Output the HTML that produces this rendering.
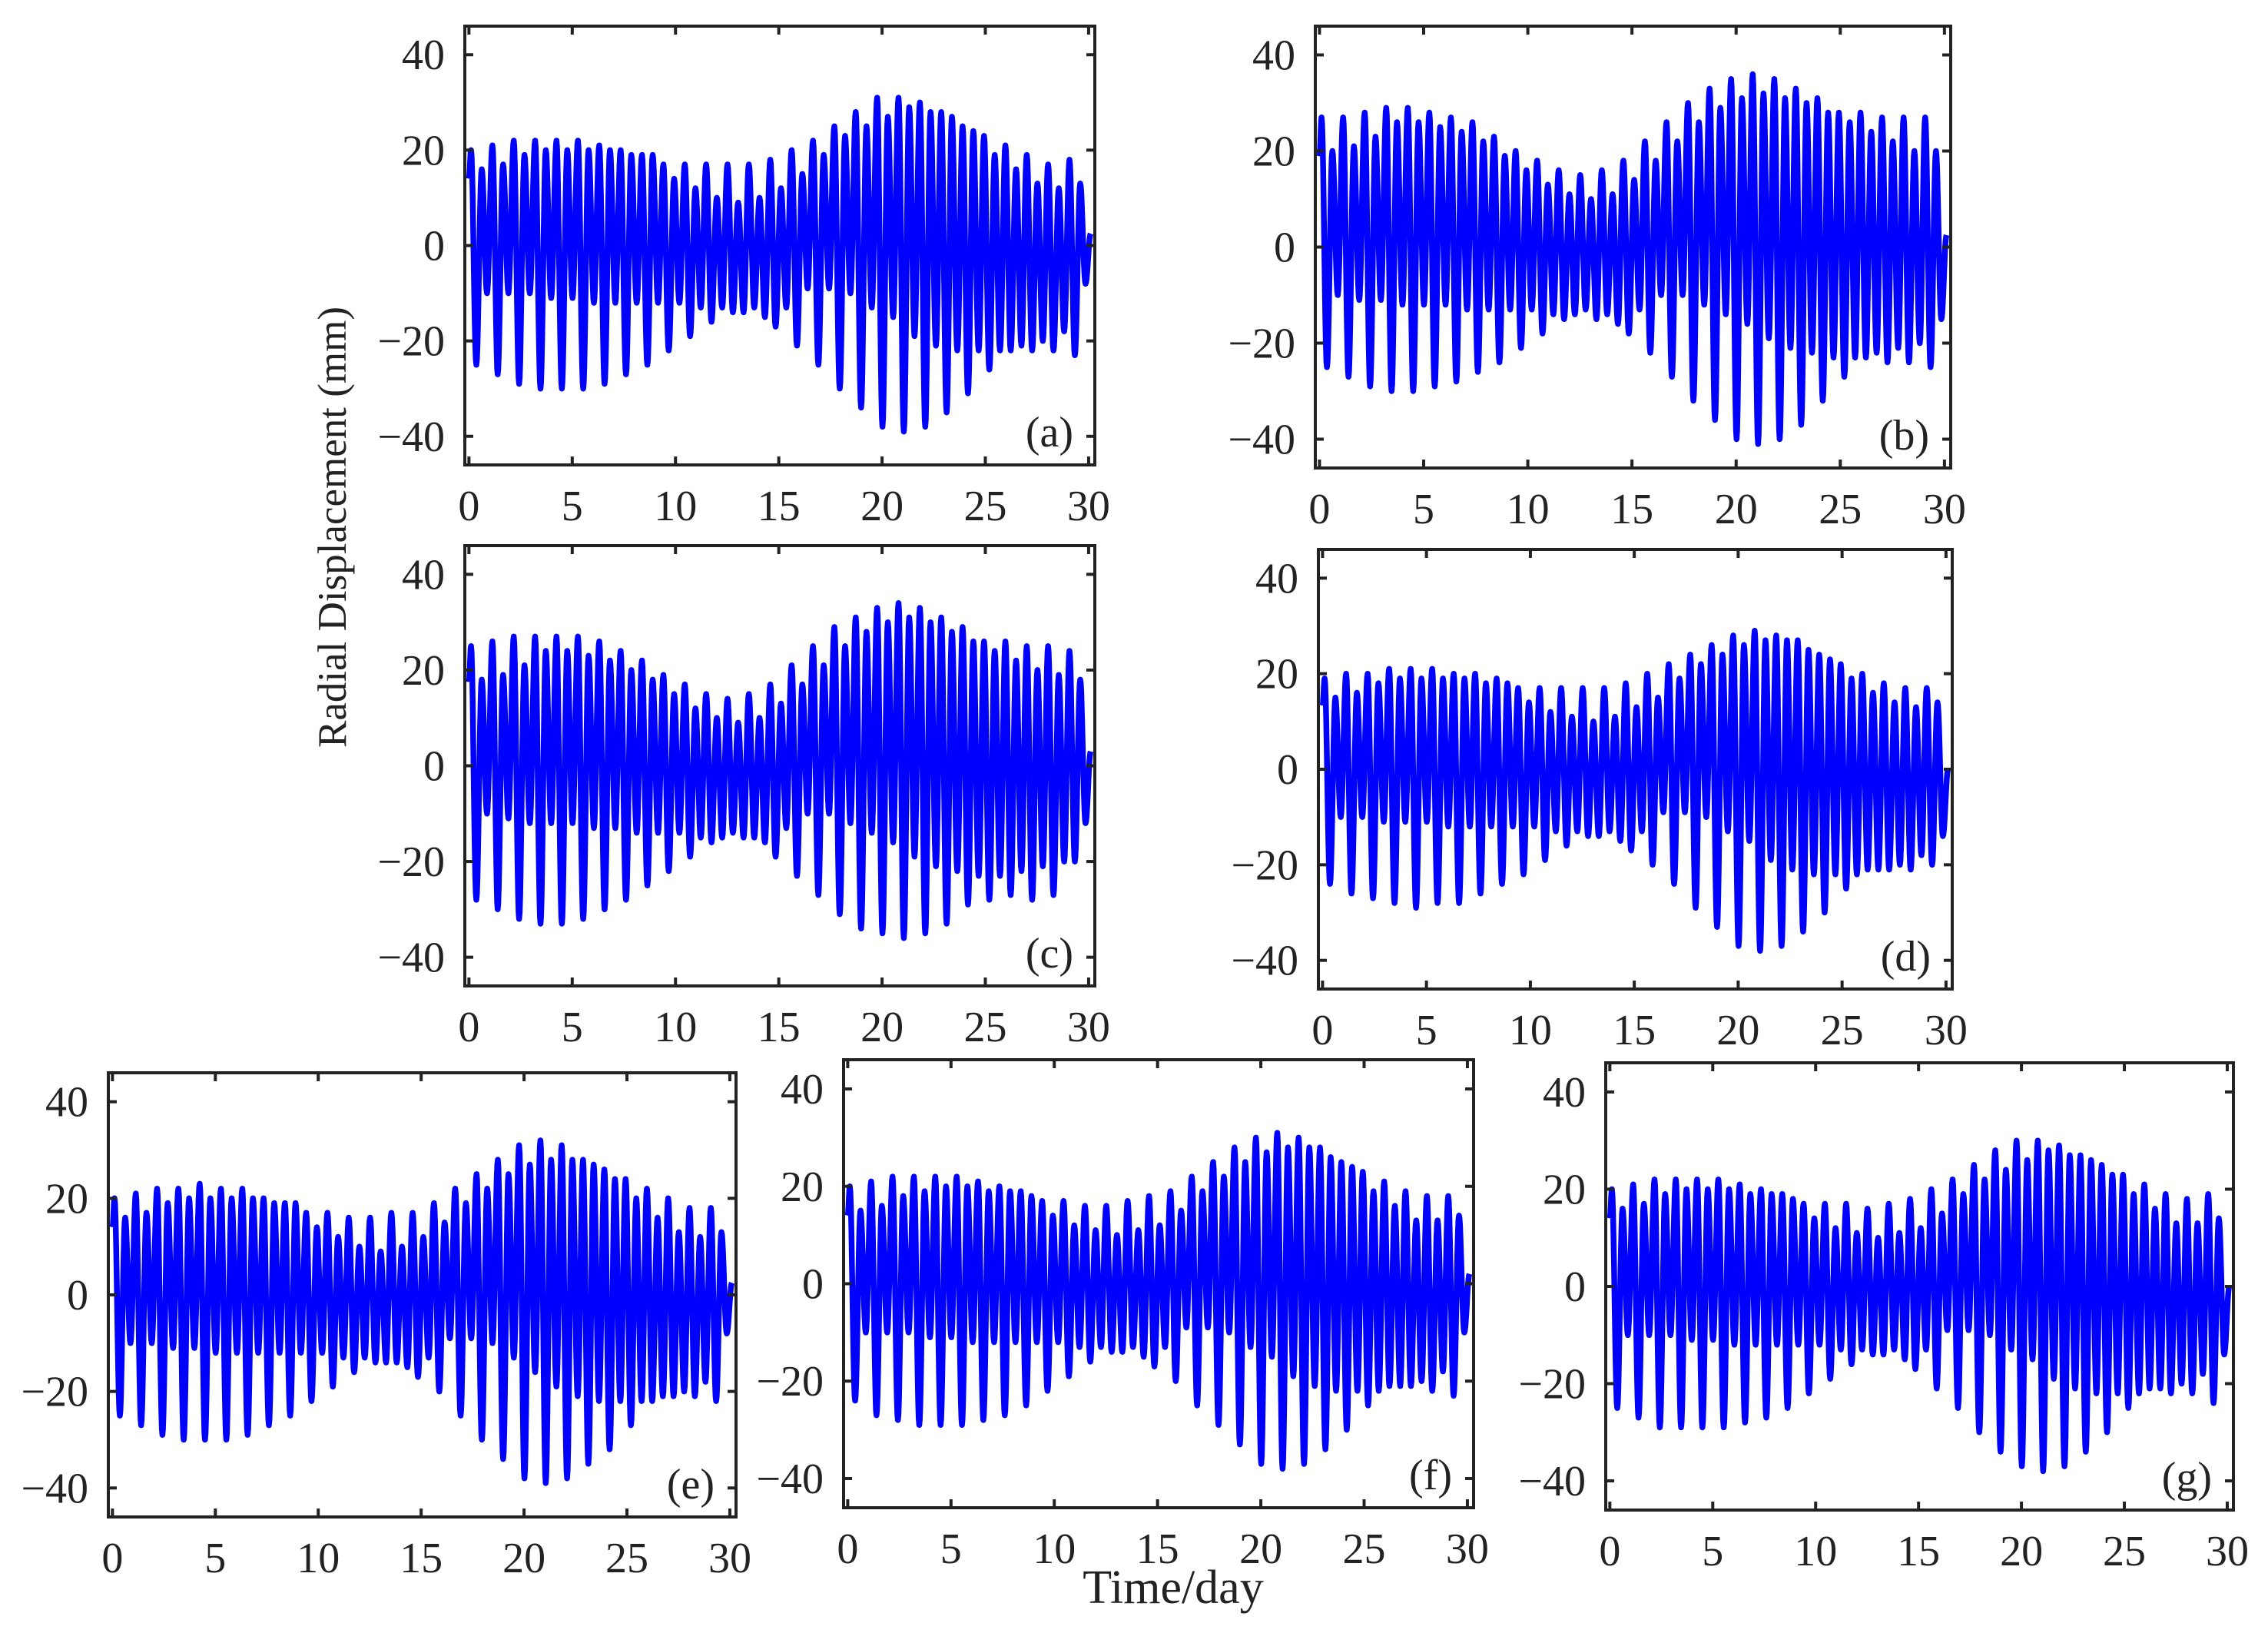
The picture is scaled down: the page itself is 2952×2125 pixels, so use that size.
<!DOCTYPE html>
<html><head><meta charset="utf-8"><style>
html,body{margin:0;padding:0;background:#fff;}
svg{display:block;}
text{font-family:"Liberation Serif",serif;fill:#222;}
</style></head><body>
<svg id="fig" width="2952" height="2125" viewBox="0 0 2952 2125" xmlns="http://www.w3.org/2000/svg">
<rect width="2952" height="2125" fill="#fff"/>
<text x="0" y="0" font-size="53" text-anchor="middle" transform="translate(450,686) rotate(-90)">Radial Displacement (mm)</text>
<text x="1527" y="2086" font-size="62" text-anchor="middle">Time/day</text>
</svg>
<script>
const xTicks=[0,5,10,15,20,25,30];
const yTicks=[-40,-20,0,20,40];
const xTickLabels=["0","5","10","15","20","25","30"];
const yTickLabels=["\u221240","\u221220","0","20","40"];
const halfCycleDays=0.2587;
const firstExtremeDay=0.1;

const highsA=[20,16,21,17,22,19,22,20,22,20,22,20,21,20,20,19,19,19,17,14,17,12,17,10,17,9,17,10,18,12,20,15,22,19,25,23,28,25,31,27,31,29,30,28,28,27,25,24,23,19,21,16,19,13,17,12,18,13];
const lowsA=[-25,-10,-27,-10,-29,-10,-30,-11,-30,-11,-30,-12,-29,-12,-27,-12,-25,-12,-22,-12,-19,-13,-16,-13,-14,-14,-13,-15,-17,-13,-21,-9,-25,-9,-30,-10,-34,-13,-38,-15,-39,-19,-38,-21,-35,-22,-31,-22,-26,-22,-22,-21,-22,-20,-22,-18,-23,-8];
const highsB=[27,20,27,21,28,23,29,26,29,26,28,25,27,24,26,22,23,19,20,16,18,13,16,11,15,10,16,11,18,14,22,18,26,22,30,26,33,29,35,31,36,32,35,31,33,30,31,28,28,26,28,24,27,22,27,20,27,20];
const lowsB=[-25,-10,-27,-11,-29,-11,-30,-12,-30,-12,-29,-12,-28,-13,-26,-13,-24,-13,-21,-13,-18,-14,-15,-14,-13,-15,-14,-16,-18,-13,-22,-10,-27,-10,-32,-12,-36,-14,-40,-16,-41,-19,-40,-21,-37,-22,-32,-23,-27,-23,-23,-22,-24,-21,-24,-20,-25,-15];
const highsC=[25,18,26,19,27,21,27,24,27,24,27,23,26,22,24,20,22,18,19,15,17,12,15,10,14,9,15,10,17,13,21,17,25,21,29,25,31,28,33,30,34,31,33,30,31,28,29,26,26,24,26,22,25,20,25,19,24,18];
const lowsC=[-28,-10,-30,-11,-32,-12,-33,-12,-33,-12,-32,-13,-30,-13,-28,-14,-25,-14,-22,-14,-19,-15,-16,-15,-14,-15,-15,-16,-19,-13,-23,-10,-27,-10,-31,-12,-34,-14,-35,-16,-36,-19,-35,-21,-33,-22,-29,-23,-28,-23,-27,-22,-28,-21,-27,-20,-20,-12];
const highsD=[19,15,20,16,20,18,21,19,21,19,21,19,20,19,20,18,19,18,17,14,17,12,17,11,17,10,17,11,18,13,20,15,22,19,24,22,26,24,28,26,29,27,28,27,27,25,24,23,22,19,20,16,18,14,17,13,17,14];
const lowsD=[-24,-10,-26,-10,-27,-11,-28,-11,-29,-11,-28,-12,-28,-12,-26,-12,-24,-12,-22,-12,-19,-13,-16,-13,-14,-14,-13,-15,-17,-13,-20,-9,-24,-9,-29,-10,-33,-13,-37,-15,-38,-19,-37,-21,-34,-22,-30,-22,-25,-22,-21,-21,-21,-20,-21,-18,-20,-14];
const highsE=[20,16,21,17,22,19,22,20,23,20,22,20,22,20,20,19,19,19,17,14,17,12,16,10,16,9,17,10,17,12,19,15,22,19,25,22,28,25,31,27,32,28,31,28,28,27,26,24,24,20,22,16,20,13,18,12,18,13];
const lowsE=[-25,-10,-27,-10,-29,-11,-30,-11,-30,-12,-30,-12,-29,-12,-27,-12,-25,-12,-22,-12,-19,-13,-16,-13,-14,-14,-14,-15,-17,-13,-20,-9,-25,-9,-30,-10,-34,-13,-38,-16,-39,-19,-38,-21,-35,-22,-32,-22,-27,-22,-22,-21,-21,-20,-21,-18,-22,-8];
const highsF=[20,15,21,16,22,18,22,19,22,20,22,20,21,19,20,19,19,18,17,14,17,12,16,11,16,10,17,11,18,12,19,15,22,19,25,22,28,25,30,27,31,28,30,28,28,26,25,24,23,19,21,16,19,13,18,13,18,14];
const lowsF=[-24,-10,-27,-10,-28,-10,-29,-11,-29,-11,-29,-12,-28,-12,-27,-12,-25,-12,-22,-12,-19,-13,-16,-13,-14,-14,-13,-15,-17,-13,-20,-9,-25,-9,-29,-10,-33,-13,-37,-15,-38,-19,-37,-21,-34,-22,-30,-22,-25,-22,-21,-21,-21,-20,-22,-18,-23,-10];
const highsG=[20,16,21,17,22,19,22,20,22,20,22,20,21,19,20,19,19,18,17,14,17,12,17,11,16,10,17,11,18,12,20,15,22,19,25,22,28,24,30,26,30,28,29,27,27,26,25,23,23,19,21,16,19,13,18,13,19,14];
const lowsG=[-25,-10,-27,-10,-29,-10,-29,-11,-29,-11,-29,-12,-28,-12,-27,-12,-25,-12,-22,-12,-19,-13,-16,-13,-14,-14,-13,-15,-17,-13,-21,-9,-25,-9,-30,-10,-34,-13,-37,-15,-38,-19,-37,-21,-34,-22,-30,-22,-25,-22,-21,-21,-22,-20,-22,-18,-24,-14];

const panels=[
 {id:"a",L:605,R:1425,T:34,B:605,hi:highsA,lo:lowsA},
 {id:"b",L:1712,R:2539,T:34,B:609,hi:highsB,lo:lowsB},
 {id:"c",L:605,R:1425,T:710,B:1283,hi:highsC,lo:lowsC},
 {id:"d",L:1716,R:2541,T:715,B:1287,hi:highsD,lo:lowsD},
 {id:"e",L:141,R:958,T:1396,B:1974,hi:highsE,lo:lowsE},
 {id:"f",L:1098,R:1918,T:1379,B:1962,hi:highsF,lo:lowsF},
 {id:"g",L:2090,R:2907,T:1383,B:1965,hi:highsG,lo:lowsG}
];
const NS="http://www.w3.org/2000/svg";
const svg=document.getElementById('fig');
function mk(tag,attrs,parent){const e=document.createElementNS(NS,tag);for(const k in attrs)e.setAttribute(k,attrs[k]);parent.appendChild(e);return e;}
const XMIN=-0.2,XMAX=30.3,YMIN=-46,YMAX=46;
panels.forEach(p=>{
  const xs=v=>p.L+(v-XMIN)/(XMAX-XMIN)*(p.R-p.L);
  const ys=v=>p.B-(v-YMIN)/(YMAX-YMIN)*(p.B-p.T);
  const g=mk('g',{},svg);
  
  
  const ext=[];
  for(let i=0;i<p.hi.length;i++){ext.push(p.hi[i]);ext.push(p.lo[i]);}
  let d='';
  const t0=0, v0=(p.hi[0]*0.7);
  d+='M'+xs(t0).toFixed(1)+','+ys(v0).toFixed(1);
  let prevT=t0, prevV=v0;
  const pts=[];
  for(let j=0;j<ext.length;j++){pts.push([firstExtremeDay+j*halfCycleDays,ext[j]]);}
  pts.push([30.1,(ext[ext.length-1]+ext[ext.length-2])/2]);
  pts.forEach(([t,v])=>{
    const n=10;
    for(let k=1;k<=n;k++){
      const f=(1-Math.cos(Math.PI*k/n))/2;
      const tt=prevT+(t-prevT)*k/n, vv=prevV+(v-prevV)*f;
      d+='L'+xs(tt).toFixed(1)+','+ys(vv).toFixed(1);
    }
    prevT=t;prevV=v;
  });
  const path=mk('path',{d:d,fill:'none',stroke:'#0000ff','stroke-width':7.5,'stroke-linejoin':'round'},g);
  
  
  const fr=mk('rect',{x:p.L,y:p.T,width:p.R-p.L,height:p.B-p.T,fill:'none',stroke:'#222','stroke-width':4},g);
  
  
  xTicks.forEach((v,i)=>{
    const x=xs(v);
    mk('line',{x1:x,y1:p.B,x2:x,y2:p.B-11,stroke:'#222','stroke-width':4},g);
    mk('line',{x1:x,y1:p.T,x2:x,y2:p.T+11,stroke:'#222','stroke-width':4},g);
    const t=mk('text',{x:x,y:p.B+72,'font-size':56,'text-anchor':'middle'},g);
    t.textContent=xTickLabels[i];
    
    
  });
  yTicks.forEach((v,i)=>{
    const y=ys(v);
    mk('line',{x1:p.L,y1:y,x2:p.L+11,y2:y,stroke:'#222','stroke-width':4},g);
    mk('line',{x1:p.R,y1:y,x2:p.R-11,y2:y,stroke:'#222','stroke-width':4},g);
    const t=mk('text',{x:p.L-26,y:y+19,'font-size':56,'text-anchor':'end'},g);
    t.textContent=yTickLabels[i];
    
    
  });
  const lab=mk('text',{x:p.R-28,y:p.B-24,'font-size':56,'text-anchor':'end'},g);
  lab.textContent='('+p.id+')';
  
  
});
</script>
</body></html>
